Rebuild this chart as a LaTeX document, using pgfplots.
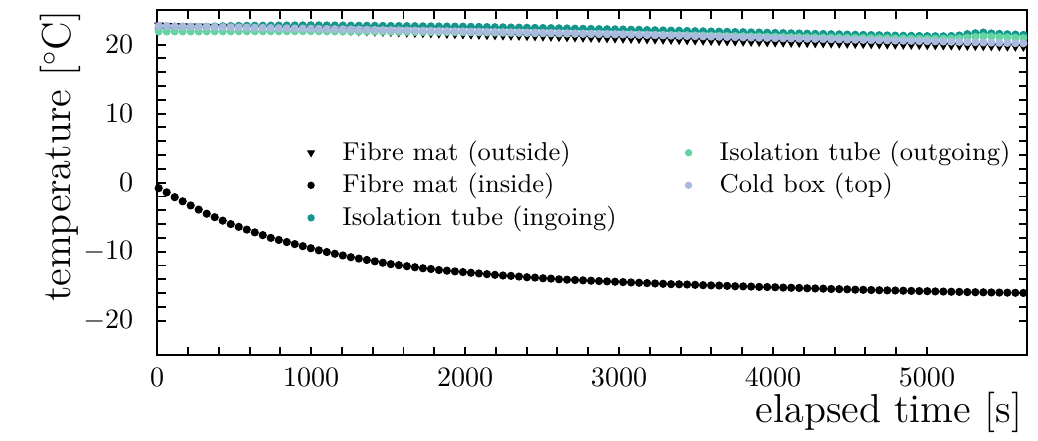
\documentclass[border=0pt]{standalone}
\usepackage{pgfplots}
\usepackage{pgfplotstable}
\pgfplotsset{compat=1.18}
\definecolor{cin}{RGB}{20,150,140}
\definecolor{cout}{RGB}{100,212,160}
\definecolor{ccold}{RGB}{170,186,222}
\pgfplotstableread{
t out in ing outg cold
10 22.79 -0.8 22.41 21.90 22.70
62 22.76 -1.4 22.44 21.90 22.68
114 22.73 -2.1 22.47 21.91 22.65
166 22.70 -2.7 22.50 21.91 22.63
218 22.67 -3.3 22.53 21.91 22.61
270 22.64 -3.9 22.56 21.91 22.59
322 22.61 -4.5 22.59 21.92 22.57
374 22.58 -5.0 22.62 21.92 22.55
426 22.54 -5.5 22.66 21.92 22.53
478 22.51 -6.0 22.69 21.92 22.51
530 22.48 -6.4 22.71 21.93 22.49
582 22.45 -6.8 22.72 21.93 22.47
634 22.42 -7.2 22.73 21.93 22.45
686 22.39 -7.6 22.74 21.93 22.43
738 22.36 -8.0 22.75 21.94 22.40
790 22.33 -8.3 22.76 21.94 22.38
842 22.29 -8.6 22.77 21.94 22.36
894 22.26 -8.9 22.78 21.94 22.34
946 22.23 -9.2 22.79 21.95 22.32
998 22.20 -9.5 22.80 21.95 22.30
1050 22.17 -9.8 22.79 21.94 22.28
1102 22.13 -10.05 22.78 21.93 22.26
1154 22.09 -10.3 22.77 21.93 22.24
1206 22.06 -10.55 22.76 21.92 22.22
1258 22.02 -10.8 22.75 21.91 22.20
1310 21.98 -11.0 22.74 21.90 22.18
1362 21.95 -11.2 22.73 21.90 22.16
1414 21.91 -11.4 22.72 21.89 22.13
1466 21.87 -11.6 22.71 21.88 22.11
1518 21.84 -11.8 22.70 21.87 22.09
1570 21.80 -11.95 22.69 21.86 22.07
1622 21.76 -12.1 22.68 21.86 22.05
1674 21.73 -12.25 22.67 21.85 22.03
1726 21.69 -12.4 22.65 21.84 22.01
1778 21.66 -12.5 22.64 21.83 21.99
1830 21.62 -12.65 22.63 21.83 21.97
1882 21.58 -12.75 22.62 21.82 21.95
1934 21.55 -12.85 22.61 21.81 21.93
1986 21.51 -12.95 22.60 21.80 21.91
2038 21.48 -13.05 22.58 21.79 21.88
2090 21.45 -13.15 22.56 21.77 21.86
2142 21.41 -13.25 22.54 21.76 21.84
2194 21.38 -13.35 22.52 21.74 21.82
2246 21.35 -13.45 22.50 21.73 21.80
2298 21.32 -13.5 22.48 21.71 21.78
2350 21.29 -13.6 22.46 21.70 21.76
2402 21.26 -13.7 22.44 21.68 21.74
2454 21.23 -13.75 22.42 21.66 21.72
2506 21.20 -13.85 22.40 21.65 21.70
2558 21.17 -13.9 22.38 21.63 21.68
2610 21.13 -14.0 22.36 21.62 21.66
2662 21.10 -14.05 22.34 21.60 21.64
2714 21.07 -14.1 22.31 21.59 21.61
2766 21.04 -14.15 22.29 21.57 21.59
2818 21.01 -14.2 22.27 21.55 21.57
2870 20.98 -14.25 22.25 21.54 21.55
2922 20.95 -14.3 22.23 21.52 21.53
2974 20.92 -14.35 22.21 21.51 21.51
3026 20.89 -14.4 22.19 21.49 21.49
3078 20.86 -14.45 22.16 21.47 21.46
3130 20.83 -14.5 22.14 21.45 21.43
3182 20.80 -14.55 22.11 21.44 21.40
3234 20.77 -14.6 22.08 21.42 21.37
3286 20.74 -14.65 22.06 21.40 21.34
3338 20.71 -14.7 22.03 21.38 21.31
3390 20.69 -14.72 22.01 21.36 21.29
3442 20.66 -14.75 21.98 21.35 21.26
3494 20.63 -14.8 21.95 21.33 21.23
3546 20.60 -14.85 21.93 21.31 21.20
3598 20.57 -14.88 21.90 21.29 21.17
3650 20.54 -14.9 21.88 21.27 21.14
3702 20.51 -14.95 21.85 21.25 21.11
3754 20.49 -15.0 21.82 21.24 21.09
3806 20.46 -15.02 21.80 21.22 21.06
3858 20.43 -15.05 21.77 21.20 21.03
3910 20.40 -15.1 21.75 21.18 21.00
3962 20.37 -15.12 21.72 21.16 20.97
4014 20.34 -15.15 21.69 21.15 20.94
4066 20.32 -15.2 21.67 21.13 20.92
4118 20.30 -15.22 21.64 21.11 20.90
4170 20.28 -15.25 21.62 21.10 20.87
4222 20.26 -15.3 21.59 21.08 20.85
4274 20.24 -15.32 21.56 21.07 20.83
4326 20.22 -15.35 21.54 21.05 20.80
4378 20.20 -15.4 21.51 21.04 20.78
4430 20.18 -15.42 21.49 21.02 20.76
4482 20.16 -15.45 21.46 21.01 20.73
4534 20.14 -15.5 21.43 20.99 20.71
4586 20.12 -15.52 21.41 20.97 20.69
4638 20.09 -15.55 21.38 20.96 20.66
4690 20.07 -15.58 21.36 20.94 20.64
4742 20.05 -15.6 21.33 20.93 20.62
4794 20.03 -15.62 21.30 20.91 20.59
4846 20.01 -15.65 21.28 20.90 20.57
4898 19.99 -15.68 21.27 20.88 20.55
4950 19.97 -15.7 21.25 20.87 20.52
5002 19.95 -15.72 21.23 20.85 20.50
5054 19.93 -15.75 21.22 20.85 20.47
5106 19.91 -15.77 21.21 20.86 20.45
5158 19.89 -15.8 21.25 20.88 20.42
5210 19.87 -15.82 21.32 20.92 20.40
5262 19.85 -15.85 21.52 21.02 20.37
5314 19.83 -15.87 21.65 21.12 20.35
5366 19.81 -15.88 21.75 21.20 20.32
5418 19.79 -15.9 21.62 21.18 20.30
5470 19.77 -15.92 21.56 21.12 20.27
5522 19.75 -15.93 21.50 21.06 20.25
5574 19.73 -15.95 21.46 21.00 20.22
5626 19.71 -15.97 21.40 20.95 20.20
}\datatable
\begin{document}
\begin{tikzpicture}
\begin{axis}[
  scale only axis,
  width=310pt, height=123pt,
  xmin=0, xmax=5650, ymin=-25, ymax=25,
  xtick={0,1000,2000,3000,4000,5000},
  ytick={-20,-10,0,10,20},
  minor x tick num=4, minor y tick num=4,
  major tick length=3pt, minor tick length=3pt,
  tick style={line width=0.7pt, black},
  axis line style={line width=0.8pt},
  tick align=inside,
  scaled x ticks=false,
  /pgf/number format/set thousands separator={},
  xticklabel style={yshift=-1pt},
  yticklabel style={xshift=-5pt},
  xlabel={elapsed time [s]},
  ylabel={temperature [$^\circ$C]},
  label style={font=\Large},
  xlabel style={at={(axis description cs:1,0)}, anchor=north east, inner sep=0pt, yshift=-13pt, xshift=-1.5pt},
  ylabel style={at={(axis description cs:-0.09,1)}, anchor=south east, inner sep=0pt, yshift=-1pt},
  legend style={at={(0.163,0.655)}, anchor=north west, draw=none, fill=none,
    font=\fontsize{9.2}{11}\selectfont, column sep=8pt, row sep=-0.8pt,
    /tikz/every even column/.append style={column sep=22.5pt}},
  legend columns=2,
  legend cell align=left,
]
\addplot[only marks, mark=triangle*, mark options={rotate=180}, mark size=1.5pt, black, forget plot] table[x=t,y=out] {\datatable};
\addplot[only marks, mark=*, mark size=1.25pt, black, forget plot] table[x=t,y=in] {\datatable};
\addplot[only marks, mark=*, mark size=1.25pt, draw=cin, fill=cin, forget plot] table[x=t,y=ing] {\datatable};
\addplot[only marks, mark=*, mark size=1.25pt, draw=cout, fill=cout, forget plot] table[x=t,y=outg] {\datatable};
\addplot[only marks, mark=*, mark size=1.25pt, draw=ccold, fill=ccold, forget plot] table[x=t,y=cold] {\datatable};
\addlegendimage{only marks, mark=triangle*, mark options={rotate=180}, mark size=1.3pt, black}
\addlegendentry{Fibre mat (outside)}
\addlegendimage{only marks, mark=*, mark size=1.1pt, draw=cout, fill=cout}
\addlegendentry{Isolation tube (outgoing)}
\addlegendimage{only marks, mark=*, mark size=1.1pt, black}
\addlegendentry{Fibre mat (inside)}
\addlegendimage{only marks, mark=*, mark size=1.1pt, draw=ccold, fill=ccold}
\addlegendentry{Cold box (top)}
\addlegendimage{only marks, mark=*, mark size=1.1pt, draw=cin, fill=cin}
\addlegendentry{Isolation tube (ingoing)}
\end{axis}
\path[use as bounding box] ([xshift=-56pt,yshift=-30.3pt]current axis.south west) rectangle ([xshift=3.9pt,yshift=3.6pt]current axis.north east);
\end{tikzpicture}
\end{document}
